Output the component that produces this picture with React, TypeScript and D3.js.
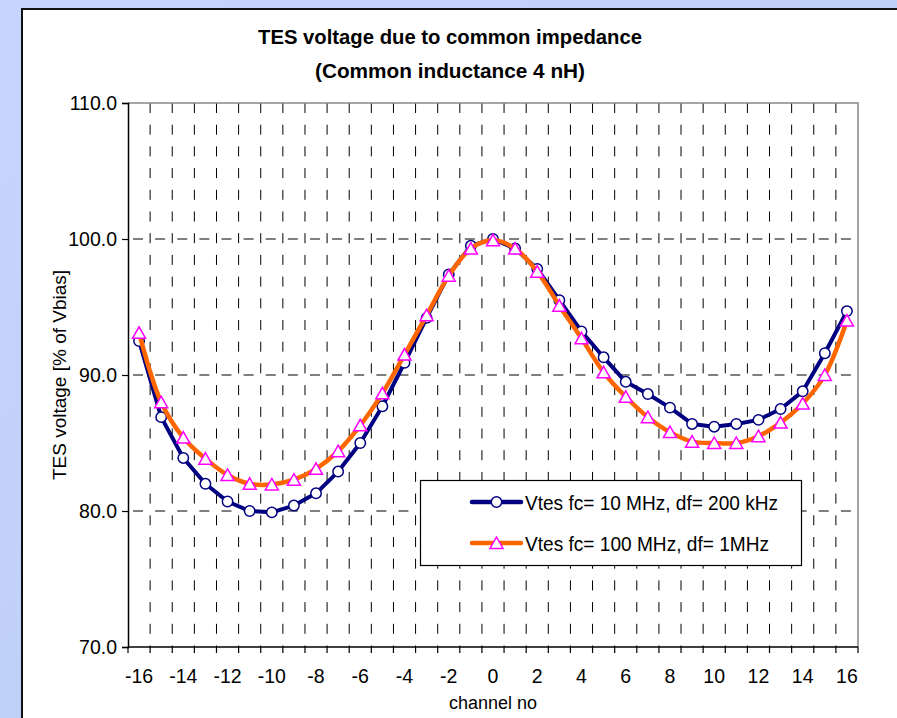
import React, { useEffect, useRef } from "react";
import * as d3 from "d3";

// channel numbers on the category axis
const channels = [
    -16, -15, -14, -13, -12, -11, -10, -9, -8, -7, -6, -5, -4, -3, -2, -1, 0,
    1, 2, 3, 4, 5, 6, 7, 8, 9, 10, 11, 12, 13, 14, 15, 16,
];

// Vtes fc= 10 MHz, df= 200 kHz
const vtes10MHz = [
    92.5, 86.9, 83.9, 82.0, 80.7, 80.0, 79.9, 80.4, 81.3, 82.9, 85.0, 87.7,
    90.9, 94.2, 97.4, 99.5, 100.0, 99.3, 97.8, 95.5, 93.2, 91.3, 89.5, 88.6,
    87.6, 86.4, 86.2, 86.4, 86.7, 87.5, 88.8, 91.6, 94.7,
];

// Vtes fc= 100 MHz, df= 1MHz
const vtes100MHz = [
    93.1, 88.0, 85.4, 83.85, 82.65, 82.0, 81.95, 82.3, 83.1, 84.4, 86.3,
    88.65, 91.5, 94.4, 97.3, 99.3, 99.9, 99.3, 97.6, 95.1, 92.7, 90.2, 88.4,
    86.9, 85.8, 85.1, 85.0, 85.0, 85.5, 86.5, 87.9, 90.0, 94.0,
];

const yTicks = [70, 80, 90, 100, 110];
const xLabels = [-16, -14, -12, -10, -8, -6, -4, -2, 0, 2, 4, 6, 8, 10, 12, 14, 16];

const seriesNames = ["Vtes fc= 10 MHz, df= 200 kHz", "Vtes fc= 100 MHz, df= 1MHz"];

const FONT = "'Liberation Sans', Arial, sans-serif";
const W = 897;
const H = 718;

const App: React.FC = () => {
    const svgRef = useRef<SVGSVGElement>(null);

    useEffect(() => {
        if (!svgRef.current) return;
        document.body.style.margin = "0";
        document.documentElement.style.overflow = "hidden";

        const svg = d3.select(svgRef.current);
        svg.selectAll("*").remove();

        const left = 128;
        const right = 858;
        const top = 103;
        const bottom = 647;

        const x = d3
            .scaleBand<number>()
            .domain(channels)
            .range([left, right])
            .padding(0);
        const bw = x.bandwidth();
        const cx = (c: number) => (x(c) || 0) + bw / 2;
        const y = d3.scaleLinear().domain([70, 110]).range([bottom, top]);

        // background
        const defs = svg.append("defs");
        const grad = defs
            .append("linearGradient")
            .attr("id", "bg")
            .attr("x1", "0")
            .attr("y1", "0")
            .attr("x2", "1")
            .attr("y2", "1");
        grad.append("stop").attr("offset", "0").attr("stop-color", "#c6d5fb");
        grad.append("stop").attr("offset", "1").attr("stop-color", "#b9cbf7");
        svg.append("rect").attr("width", W).attr("height", H).attr("fill", "url(#bg)");

        // white chart panel (runs off the right and bottom edges)
        svg.append("rect")
            .attr("x", 22)
            .attr("y", 9)
            .attr("width", W - 22)
            .attr("height", H - 9)
            .attr("fill", "#ffffff");
        svg.append("path")
            .attr("d", `M22,${H}V9H${W}`)
            .attr("fill", "none")
            .attr("stroke", "#111")
            .attr("stroke-width", 2);

        // title
        const title = svg
            .append("text")
            .attr("text-anchor", "middle")
            .attr("font-family", FONT)
            .attr("font-weight", "bold")
            .attr("font-size", 21)
            .attr("fill", "#000");
        title.append("tspan")
            .attr("x", 450)
            .attr("y", 43.5)
            .attr("textLength", 384)
            .attr("lengthAdjust", "spacingAndGlyphs")
            .text("TES voltage due to common impedance");
        title.append("tspan")
            .attr("x", 450)
            .attr("y", 78)
            .attr("textLength", 270)
            .attr("lengthAdjust", "spacingAndGlyphs")
            .text("(Common inductance 4 nH)");

        // vertical dashed gridlines at category boundaries
        const boundaries = d3.range(1, channels.length).map((i) => left + bw * i);
        svg.append("g")
            .selectAll("line")
            .data(boundaries)
            .enter()
            .append("line")
            .attr("x1", (d) => d)
            .attr("x2", (d) => d)
            .attr("y1", top)
            .attr("y2", bottom)
            .attr("stroke", "#000")
            .attr("stroke-width", 1)
            .attr("stroke-dasharray", "10 11.7");

        // horizontal dashed gridlines
        const dash = 10;
        const phase = ((bw - dash / 2) % bw + bw) % bw;
        svg.append("g")
            .selectAll("line")
            .data(yTicks.filter((t) => t > 70 && t < 110))
            .enter()
            .append("line")
            .attr("x1", left)
            .attr("x2", right)
            .attr("y1", (d) => y(d))
            .attr("y2", (d) => y(d))
            .attr("stroke", "#555")
            .attr("stroke-width", 1.3)
            .attr("stroke-dasharray", `${dash} ${bw - dash}`)
            .attr("stroke-dashoffset", phase);

        // plot border top/right
        svg.append("path")
            .attr("d", `M${left},${top}H${right}V${bottom}`)
            .attr("fill", "none")
            .attr("stroke", "#888")
            .attr("stroke-width", 1.5);

        // axes
        const yAxis = d3.axisLeft(y).tickValues(yTicks).tickSize(6).tickFormat((d) => (d as number).toFixed(1));
        const gy = svg.append("g").attr("transform", `translate(${left},0)`).call(yAxis);
        gy.select(".domain").attr("stroke", "#000").attr("stroke-width", 1.5);
        gy.selectAll(".tick line").attr("stroke", "#000").attr("stroke-width", 1.2);
        gy.selectAll(".tick text")
            .attr("font-family", FONT)
            .attr("font-size", 19.5)
            .attr("fill", "#000")
            .attr("x", -11)
            .attr("dy", "0.34em");

        // bottom axis: ticks at every category boundary, labels every second channel
        svg.append("line")
            .attr("x1", left)
            .attr("x2", right)
            .attr("y1", bottom)
            .attr("y2", bottom)
            .attr("stroke", "#000")
            .attr("stroke-width", 1.5);
        svg.append("g")
            .selectAll("line")
            .data([left, ...boundaries, right])
            .enter()
            .append("line")
            .attr("x1", (d) => d)
            .attr("x2", (d) => d)
            .attr("y1", bottom)
            .attr("y2", bottom + 6)
            .attr("stroke", "#000")
            .attr("stroke-width", 1.2);
        svg.append("g")
            .selectAll("text")
            .data(xLabels)
            .enter()
            .append("text")
            .attr("x", (d) => cx(d))
            .attr("y", 682.5)
            .attr("text-anchor", "middle")
            .attr("font-family", FONT)
            .attr("font-size", 19.5)
            .attr("fill", "#000")
            .text((d) => `${d}`);

        // axis titles
        svg.append("text")
            .attr("x", 493)
            .attr("y", 709)
            .attr("text-anchor", "middle")
            .attr("font-family", FONT)
            .attr("font-size", 18)
            .text("channel no");
        svg.append("text")
            .attr("transform", `translate(66,375) rotate(-90)`)
            .attr("text-anchor", "middle")
            .attr("font-family", FONT)
            .attr("font-size", 19)
            .text("TES voltage [% of Vbias]");

        // series
        const line10 = d3
            .line<number>()
            .x((_, i) => cx(channels[i]))
            .y((d) => y(d));
        const line100 = d3
            .line<number>()
            .x((_, i) => cx(channels[i]))
            .y((d) => y(d))
            .curve(d3.curveCatmullRom.alpha(0.5));

        const triangle = "M0,-6L6.5,5.5L-6.5,5.5Z";

        svg.append("path")
            .datum(vtes10MHz)
            .attr("d", line10)
            .attr("fill", "none")
            .attr("stroke", "#000080")
            .attr("stroke-width", 4)
            .attr("stroke-linejoin", "round");
        svg.append("g")
            .selectAll("circle")
            .data(vtes10MHz)
            .enter()
            .append("circle")
            .attr("cx", (_, i) => cx(channels[i]))
            .attr("cy", (d) => y(d))
            .attr("r", 5.2)
            .attr("fill", "#fff")
            .attr("stroke", "#000080")
            .attr("stroke-width", 1.5);

        svg.append("path")
            .datum(vtes100MHz)
            .attr("d", line100)
            .attr("fill", "none")
            .attr("stroke", "#ff6600")
            .attr("stroke-width", 4.5)
            .attr("stroke-linejoin", "round");
        svg.append("g")
            .selectAll("path")
            .data(vtes100MHz)
            .enter()
            .append("path")
            .attr("d", triangle)
            .attr("transform", (d, i) => `translate(${cx(channels[i])},${y(d)})`)
            .attr("fill", "#fff")
            .attr("stroke", "#ff00ff")
            .attr("stroke-width", 1.5);

        // legend
        const lg = svg.append("g");
        lg.append("rect")
            .attr("x", 420.5)
            .attr("y", 480.5)
            .attr("width", 381)
            .attr("height", 85)
            .attr("fill", "#fff")
            .attr("stroke", "#000")
            .attr("stroke-width", 1.2);
        const rows = [
            { name: seriesNames[0], color: "#000080", y: 502, marker: "circle", len: 253 },
            { name: seriesNames[1], color: "#ff6600", y: 543, marker: "triangle", len: 244 },
        ];
        rows.forEach((r) => {
            lg.append("line")
                .attr("x1", 472)
                .attr("x2", 521)
                .attr("y1", r.y)
                .attr("y2", r.y)
                .attr("stroke", r.color)
                .attr("stroke-width", 4.5)
                .attr("stroke-linecap", "round");
            if (r.marker === "circle") {
                lg.append("circle")
                    .attr("cx", 496.5)
                    .attr("cy", r.y)
                    .attr("r", 5.2)
                    .attr("fill", "#fff")
                    .attr("stroke", "#000080")
                    .attr("stroke-width", 1.5);
            } else {
                lg.append("path")
                    .attr("d", triangle)
                    .attr("transform", `translate(496.5,${r.y})`)
                    .attr("fill", "#fff")
                    .attr("stroke", "#ff00ff")
                    .attr("stroke-width", 1.5);
            }
            lg.append("text")
                .attr("x", 525)
                .attr("y", r.y + 7.5)
                .attr("font-family", FONT)
                .attr("font-size", 21)
                .attr("textLength", r.len)
                .attr("lengthAdjust", "spacingAndGlyphs")
                .attr("fill", "#000")
                .text(r.name);
        });
    }, []);

    return (
        <svg
            ref={svgRef}
            width={W}
            height={H}
            style={{ position: "absolute", left: 0, top: 0, display: "block" }}
        />
    );
};

export default App;
